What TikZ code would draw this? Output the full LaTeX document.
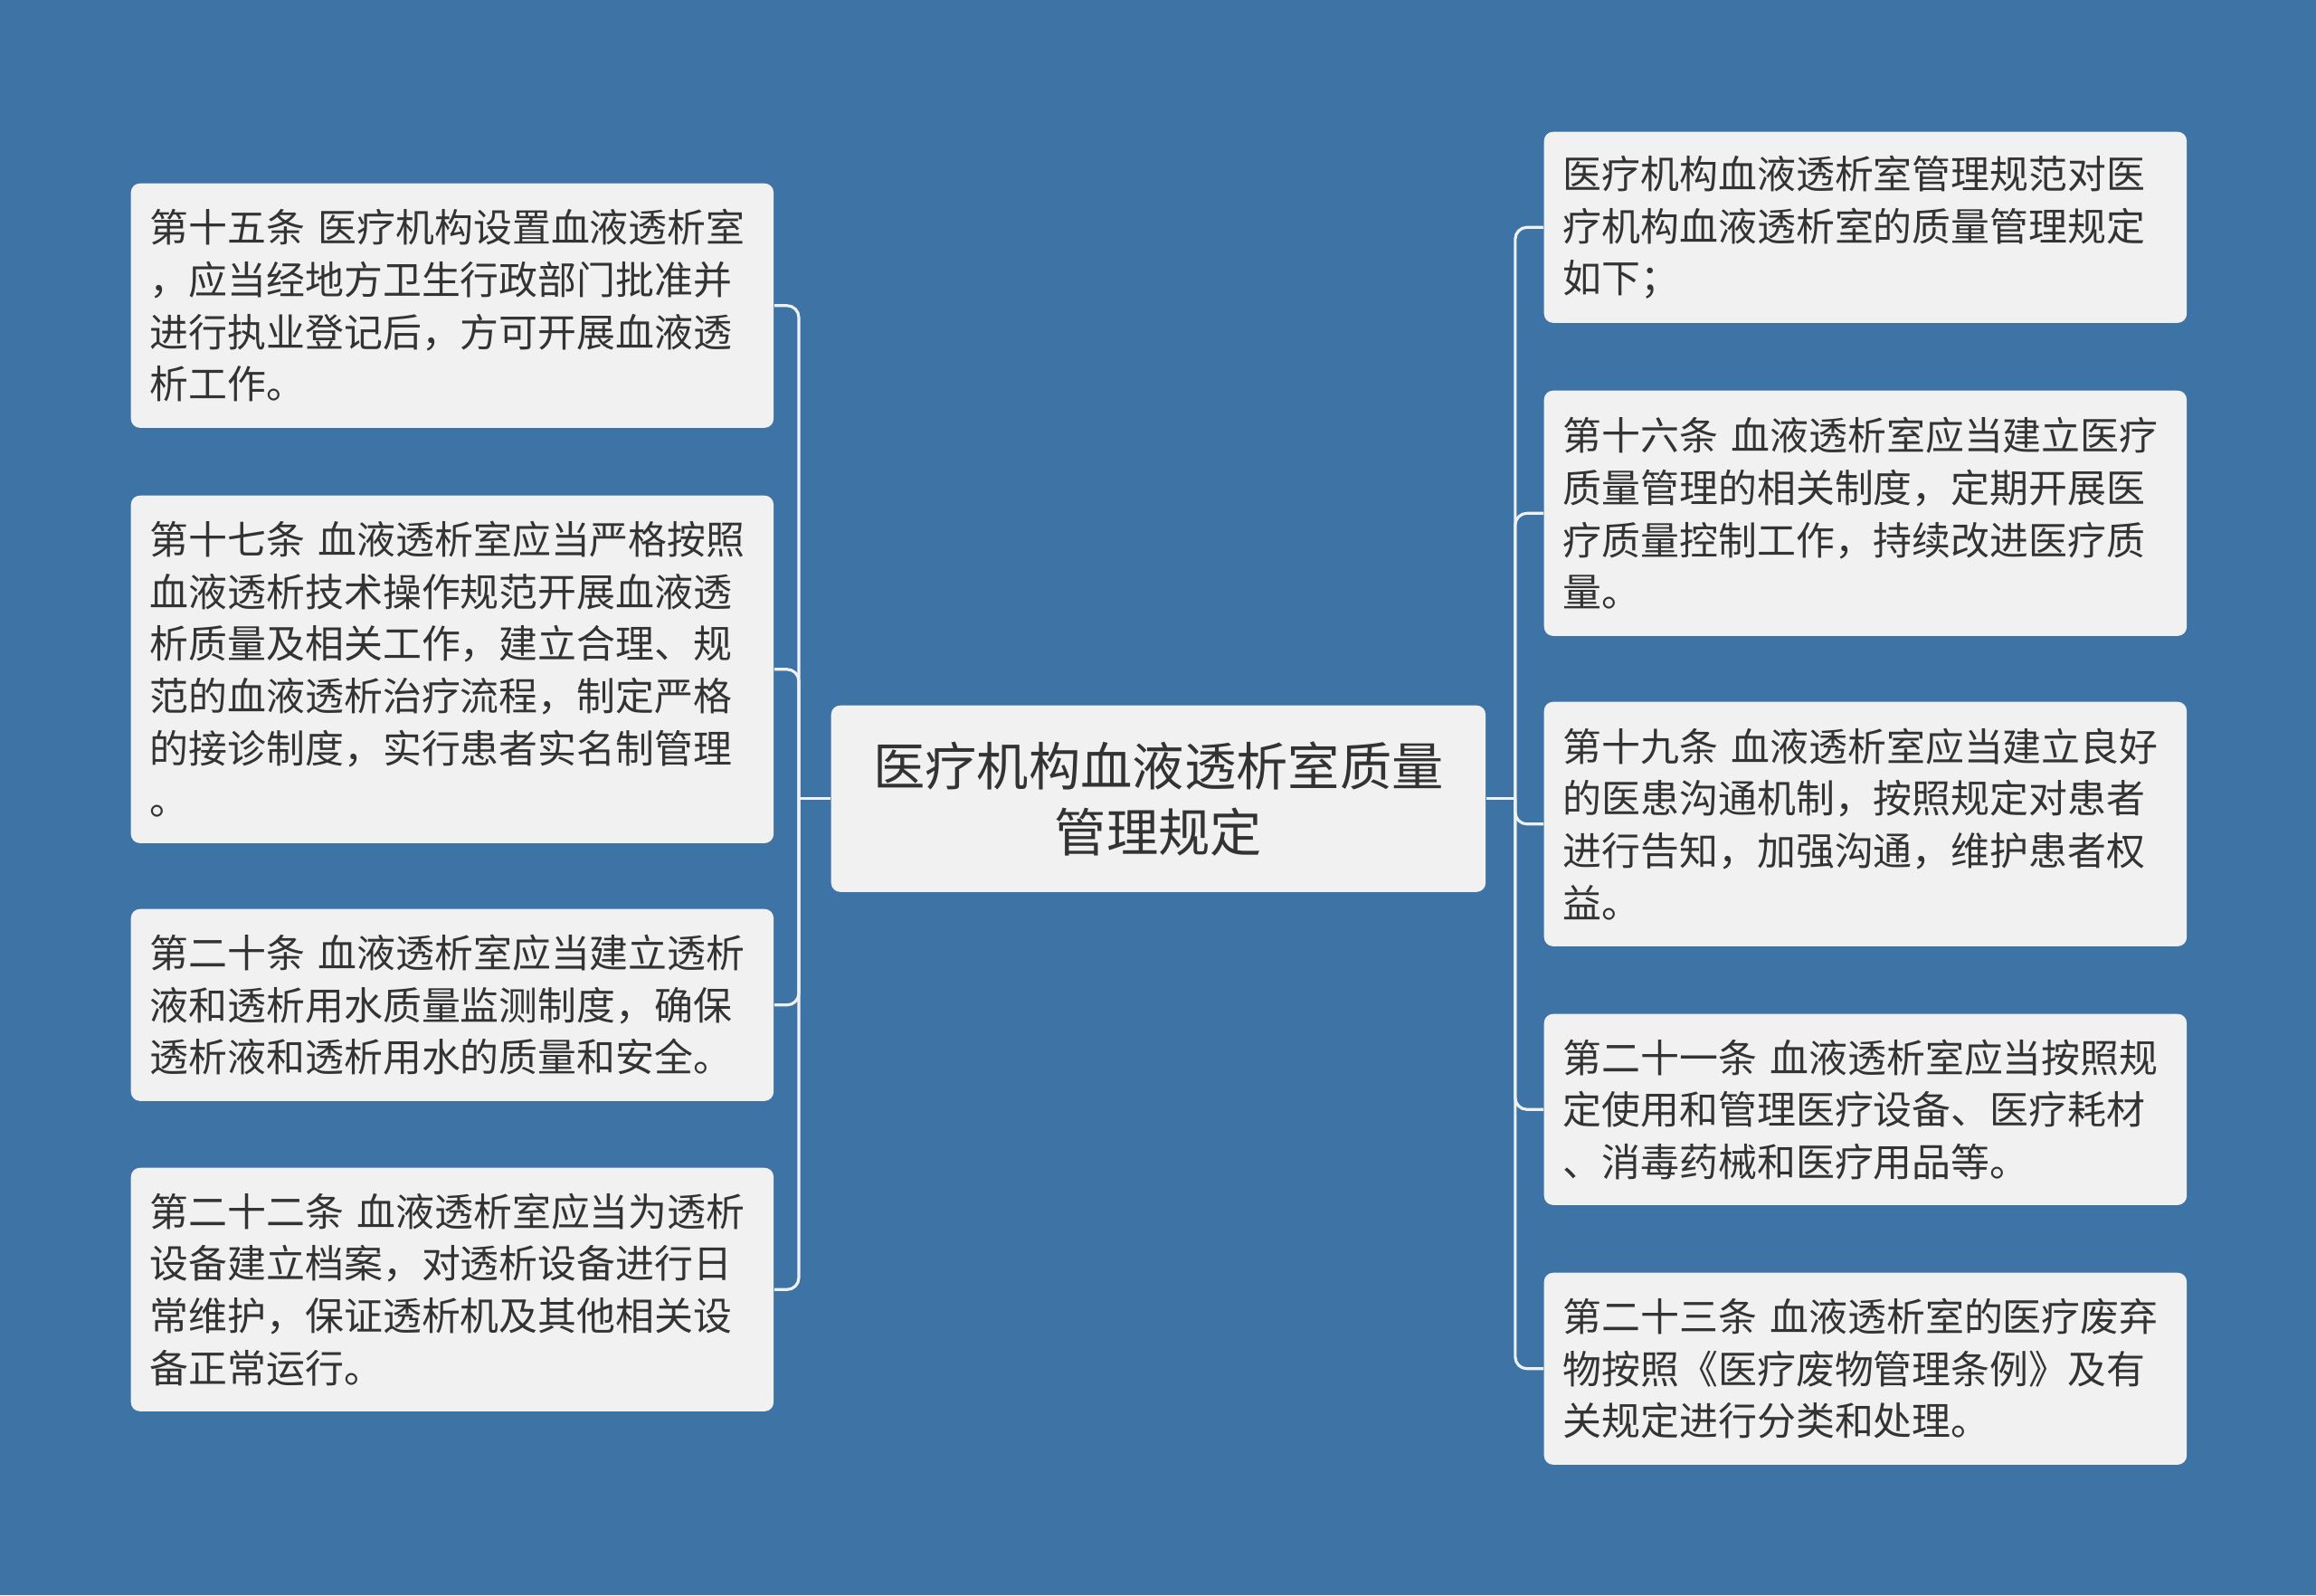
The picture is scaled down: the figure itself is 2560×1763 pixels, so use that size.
\documentclass[tikz,border=0pt]{standalone}
\usepackage{fontspec}
\newfontfamily\cjk{Noto Sans CJK SC}
\definecolor{bgblue}{HTML}{3E73A5}
\definecolor{boxgray}{HTML}{F1F1F1}
\definecolor{txtgray}{HTML}{333333}
\definecolor{linkwhite}{HTML}{EEF2F6}
\hfuzz=50pt
\begin{document}
\begin{tikzpicture}[x=0.01cm,y=-0.01cm,
    leaf/.style={fill=boxgray,rounded corners=0.1cm,text=txtgray,anchor=north west,
      minimum width=7.1cm,text width=6.68cm,inner xsep=0.21cm,align=left,
      font=\cjk\fontsize{12.2pt}{16.4pt}\selectfont},
    hubbox/.style={fill=boxgray,rounded corners=0.1cm,text=txtgray,anchor=north west,
      minimum width=7.23cm,minimum height=2.06cm,text width=6.8cm,align=center,
      font=\cjk\fontsize{16.3pt}{20.8pt}\selectfont},
    link/.style={draw=linkwhite,line width=0.9pt,rounded corners=0.13cm}]
    \fill[bgblue] (0,0) rectangle (2560,1763);
    % centre
    \node[hubbox] (hub) at (918,779) {医疗机构血液透析室质量\\管理规定};
    % left side
    \node[leaf,minimum height=2.70cm] (l1) at (144,202)
    {第十五条~医疗机构设置血液透析室\\，应当经地方卫生行政部门批准并\\进行执业登记后，方可开展血液透\\析工作。};
    \node[leaf,minimum height=3.84cm] (l2) at (144,547)
    {第十七条~血液透析室应当严格按照\\血液透析技术操作规范开展血液透\\析质量及相关工作，建立合理、规\\范的血液透析治疗流程，制定严格\\的接诊制度，实行患者实名制管理\\。};
    \node[leaf,minimum height=2.12cm] (l3) at (144,1004)
    {第二十条~血液透析室应当建立透析\\液和透析用水质量监测制度，确保\\透析液和透析用水的质量和安全。};
    \node[leaf,minimum height=2.69cm] (l4) at (144,1290)
    {第二十二条~血液透析室应当为透析\\设备建立档案，对透析设备进行日\\常维护，保证透析机及其他相关设\\备正常运行。};
    % right side
    \node[leaf,minimum height=2.11cm] (r1) at (1706,145)
    {医疗机构血液透析室管理规范对医\\疗机构血液透析室的质量管理规定\\如下；};
    \node[leaf,minimum height=2.71cm] (r2) at (1706,431)
    {第十六条~血液透析室应当建立医疗\\质量管理的相关制度，定期开展医\\疗质量控制工作，持续改进医疗质\\量。};
    \node[leaf,minimum height=2.70cm] (r3) at (1706,775)
    {第十九条~血液透析室应当建立良好\\的医患沟通机制，按照规定对患者\\进行告知，加强沟通，维护患者权\\益。};
    \node[leaf,minimum height=2.11cm] (r4) at (1706,1120)
    {第二十一条~血液透析室应当按照规\\定使用和管理医疗设备、医疗耗材\\、消毒药械和医疗用品等。};
    \node[leaf,minimum height=2.12cm] (r5) at (1706,1406)
    {第二十三条~血液透析室的医疗废弃\\物按照《医疗废物管理条例》及有\\关规定进行分类和处理。};
    % connectors
    \coordinate (ljoint) at ([xshift=-0.35cm]hub.west);
    \coordinate (rjoint) at ([xshift=0.32cm]hub.east);
    \draw[link] (hub.west) -- (ljoint);
    \draw[link] (hub.east) -- (rjoint);
    \foreach \n in {l1,l2,l3,l4}
        \draw[link] (ljoint) |- (\n.east);
    \foreach \n in {r1,r2,r3,r4,r5}
        \draw[link] (rjoint) |- (\n.west);
\end{tikzpicture}
\end{document}
